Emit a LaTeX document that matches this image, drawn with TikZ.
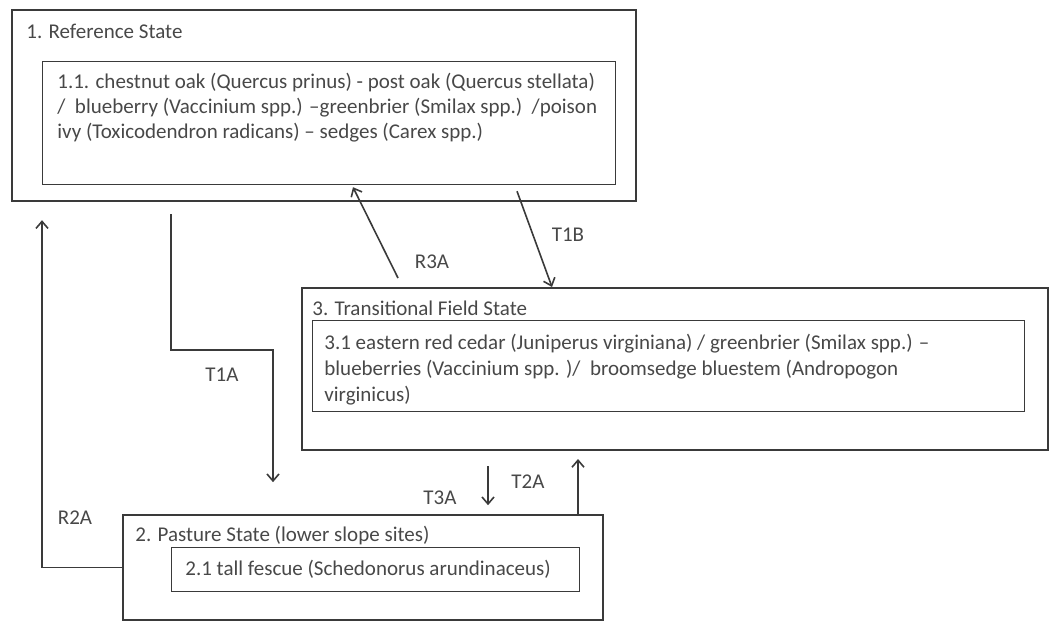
\documentclass[tikz,border=0pt]{standalone}
\usepackage{fontspec}
\setmainfont{Carlito}
\usetikzlibrary{arrows.meta,calc}

\definecolor{linegray}{HTML}{3A3A3A}
\definecolor{textgray}{HTML}{484848}

\tikzset{
  statebox/.style={draw=linegray, line width=1.1pt, anchor=north west, inner sep=0pt},
  phasebox/.style={draw=linegray, line width=0.6pt, anchor=north west, inner sep=0pt},
  boxtext/.style={anchor=north west, inner sep=0pt, align=left, text=textgray,
    font=\fontsize{10.5}{12.5}\selectfont},
  title/.style={anchor=west, inner sep=0pt, text=textgray, font=\fontsize{10.5}{12.5}\selectfont},
  lbl/.style={inner sep=0pt, text=textgray, font=\fontsize{10.5}{12.5}\selectfont},
  arr/.style={draw=linegray, line width=0.8pt, -{Straight Barb[length=3.5pt,width=6pt]}},
}

\begin{document}
\begin{tikzpicture}[x=0.5pt,y=-0.5pt]
    \useasboundingbox (0,0) rectangle (1050,621);
    % state boxes
    \node[statebox, minimum width=312pt, minimum height=95.5pt] (ref) at (11,9) {};
    \node[statebox, minimum width=373pt, minimum height=81pt] (trans) at (301,287) {};
    \node[statebox, minimum width=240pt, minimum height=52.5pt] (past) at (122,514) {};
    \node[title] (reftitle) at ([shift={(15,22)}]ref.north west) {1. Reference State};
    \node[title] (transtitle) at ([shift={(11,21)}]trans.north west) {3. Transitional Field State};
    \node[title] (pasttitle) at ([shift={(13,22)}]past.north west) {2. Pasture State (lower slope sites)};
    % community phases
    \node[phasebox, minimum width=286.5pt, minimum height=61.5pt] (refin) at (42,61) {};
    \node[phasebox, minimum width=356pt, minimum height=45.5pt] (transin) at (312,320) {};
    \node[phasebox, minimum width=204pt, minimum height=22pt] (pastin) at (171,547) {};
    \node[boxtext] (reftxt) at ([shift={(15,12)}]refin.north west)
      {1.1. chestnut oak (Quercus prinus) - post oak (Quercus stellata)\\
       /\ \ blueberry (Vaccinium spp.) –greenbrier (Smilax spp.)\ \ /poison\\
       ivy (Toxicodendron radicans) – sedges (Carex spp.)};
    \node[boxtext, font=\fontsize{10.5}{13}\selectfont] (transtxt) at ([shift={(12,14)}]transin.north west)
      {3.1 eastern red cedar (Juniperus virginiana) / greenbrier (Smilax spp.) –\\
       blueberries (Vaccinium spp. )/\ \ broomsedge bluestem (Andropogon\\
       virginicus)};
    \node[boxtext, anchor=west] (pasttxt) at ([xshift=7pt]pastin.west)
      {2.1 tall fescue (Schedonorus arundinaceus)};
    % transitions
    \draw[arr] ([shift={(160,12)}]ref.south west) -- ++(0,136) -- ++(102,0) -- ++(0,132);
    \draw[arr] (past.west) -| ([shift={(31,18)}]ref.south west);
    \draw[arr] ([shift={(97,-9)}]trans.north west) -- ([shift={(311,2)}]refin.south west);
    \draw[arr] ([shift={(475,6)}]refin.south west) -- ([shift={(251,0)}]trans.north west);
    \draw[arr] ([shift={(187,15)}]trans.south west) -- ++(0,39);
    \draw[arr] ([shift={(456,0)}]past.north west) -- ++(0,-55);
    \node[lbl] (lT1A) at (222,375) {T1A};
    \node[lbl] (lT1B) at (568,235) {T1B};
    \node[lbl] (lR3A) at (432,262) {R3A};
    \node[lbl] (lR2A) at (75,518) {R2A};
    \node[lbl] (lT3A) at (440,498) {T3A};
    \node[lbl] (lT2A) at (528,482) {T2A};
\end{tikzpicture}
\end{document}
